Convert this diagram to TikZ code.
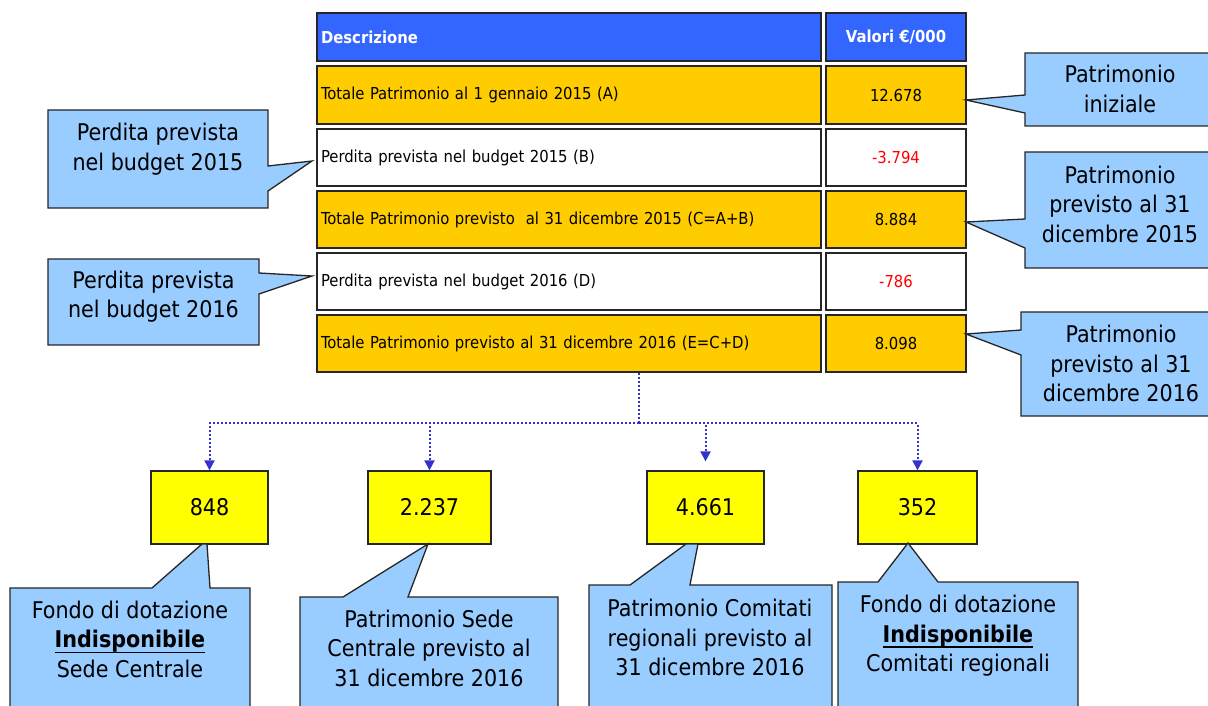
\documentclass[tikz,border=0pt]{standalone}
\usepackage{fontspec}
\setmainfont{DejaVu Sans Condensed}
\usetikzlibrary{arrows.meta}
\definecolor{hdrblue}{HTML}{3366FF}
\definecolor{gold}{HTML}{FFCC00}
\definecolor{callblue}{HTML}{99CCFF}
\definecolor{boxyellow}{HTML}{FFFF00}
\definecolor{connblue}{HTML}{3333CC}
\definecolor{negred}{HTML}{FF0000}
\newcommand\myul[1]{\setbox0\hbox{#1}\rlap{\rule[-5.8pt]{\wd0}{1.6pt}}\box0}
\begin{document}
\begin{tikzpicture}[x=1pt,y=-1pt,
  tabtext/.style={font=\fontsize{16.5}{20}\selectfont},
  lcell/.style={draw=black!85, line width=1.3pt, text width=496pt, inner xsep=4pt, inner ysep=0pt, align=left, minimum height=57pt, tabtext},
  rcell/.style={draw=black!85, line width=1.3pt, minimum width=140pt, inner sep=0pt, minimum height=57pt, align=center, tabtext},
  callshape/.style={fill=callblue, draw=black!85, line width=1.3pt, line join=miter},
  calltext/.style={align=center, inner sep=0pt, font=\fontsize{23}{29.5}\selectfont},
  ybox/.style={draw=black!85, line width=1.3pt, fill=boxyellow, minimum height=73pt, inner sep=0pt, font=\fontsize{23}{28}\selectfont},
  connline/.style={draw=connblue, line width=2pt, dash pattern=on 2pt off 2pt},
  conn/.style={connline, -{Triangle[width=10pt,length=10pt,fill=connblue]}}
]
\fill[white] (0,0) rectangle (1208,706);
\useasboundingbox (0,0) rectangle (1208,706);

% table
\node[lcell, fill=hdrblue, minimum height=48pt, text=white] (hl) at (569,37) {\textbf{Descrizione}};
\node[rcell, fill=hdrblue, minimum height=48pt, text=white] (hr) at (896,37) {\textbf{Valori €/000}};
\node[lcell, fill=gold, minimum height=58pt] (r1l) at (569,95) {Totale Patrimonio al 1 gennaio 2015 (A)};
\node[rcell, fill=gold, minimum height=58pt] (r1r) at (896,95) {12.678};
\node[lcell, fill=white] (r2l) at (569,157.5) {Perdita prevista nel budget 2015 (B)};
\node[rcell, fill=white, text=negred] (r2r) at (896,157.5) {-3.794};
\node[lcell, fill=gold] (r3l) at (569,219.5) {Totale Patrimonio previsto\ \ al 31 dicembre 2015 (C=A+B)};
\node[rcell, fill=gold] (r3r) at (896,219.5) {8.884};
\node[lcell, fill=white] (r4l) at (569,281.5) {Perdita prevista nel budget 2016 (D)};
\node[rcell, fill=white, text=negred] (r4r) at (896,281.5) {-786};
\node[lcell, fill=gold] (r5l) at (569,343.5) {Totale Patrimonio previsto al 31 dicembre 2016 (E=C+D)};
\node[rcell, fill=gold] (r5r) at (896,343.5) {8.098};

% yellow boxes
\node[ybox, minimum width=117pt] (b1) at (209.5,507.5) {848};
\node[ybox, minimum width=123pt] (b2) at (429.5,507.5) {2.237};
\node[ybox, minimum width=117pt] (b3) at (705.5,507.5) {4.661};
\node[ybox, minimum width=119pt] (b4) at (917.5,507.5) {352};

% connectors
\coordinate (tap) at (639,373);
\coordinate (bus) at (639,423);
\draw[connline] (tap) -- (bus);
\draw[conn] (bus) -| (b1.north);
\draw[conn] (bus) -| (b2.north);
\draw[conn] (bus) -| ([yshift=9pt]b3.north);
\draw[conn] (bus) -| (b4.north);

% left callouts
\filldraw[callshape] (48,110) -- (268,110) -- (268,166) -- (312,161) -- (268,191) -- (268,208) -- (48,208) -- cycle;
\node[calltext] (cL1) at (158,149.6) {\strut Perdita prevista\\\strut nel budget 2015};
\filldraw[callshape] (48,259) -- (259,259) -- (259,273) -- (312,276) -- (259,294) -- (259,345) -- (48,345) -- cycle;
\node[calltext] (cL2) at (153.5,297.1) {\strut Perdita prevista\\\strut nel budget 2016};

% right callouts
\filldraw[callshape] (1025,53) -- (1212,53) -- (1212,126) -- (1025,126) -- (1025,113) -- (966,100) -- (1025,95) -- cycle;
\node[calltext] (cR1) at (1120,91.6) {\strut Patrimonio\\\strut iniziale};
\filldraw[callshape] (1025,152) -- (1212,152) -- (1212,268) -- (1025,268) -- (1025,248) -- (966,222) -- (1025,219) -- cycle;
\node[calltext] (cR2) at (1120,206.6) {\strut Patrimonio\\\strut previsto al 31\\\strut dicembre 2015};
\filldraw[callshape] (1021,312) -- (1212,312) -- (1212,416) -- (1021,416) -- (1021,355) -- (966,334) -- (1021,330) -- cycle;
\node[calltext] (cR3) at (1121,366.1) {\strut Patrimonio\\\strut previsto al 31\\\strut dicembre 2016};

% bottom callouts
\filldraw[callshape] (10,588) -- (152,588) -- (202,544) -- (207,544) -- (210,588) -- (250,588) -- (250,712) -- (10,712) -- cycle;
\node[calltext] (cB1) at (130,641.6) {\strut Fondo di dotazione\\\strut\myul{\textbf{Indisponibile}}\\\strut Sede Centrale};
\filldraw[callshape] (300,597) -- (343,597) -- (428,544) -- (408,597) -- (558,597) -- (558,712) -- (300,712) -- cycle;
\node[calltext] (cB2) at (429,650.6) {\strut Patrimonio Sede\\\strut Centrale previsto al\\\strut 31 dicembre 2016};
\filldraw[callshape] (589,585) -- (630,585) -- (686,544) -- (698,544) -- (690,585) -- (832,585) -- (832,712) -- (589,712) -- cycle;
\node[calltext] (cB3) at (710,640.1) {\strut Patrimonio Comitati\\\strut regionali previsto al\\\strut 31 dicembre 2016};
\filldraw[callshape] (838,582) -- (878,582) -- (908,543) -- (938,582) -- (1078,582) -- (1078,712) -- (838,712) -- cycle;
\node[calltext] (cB4) at (958,636.1) {\strut Fondo di dotazione\\\strut\myul{\textbf{Indisponibile}}\\\strut Comitati regionali};
\end{tikzpicture}
\end{document}
